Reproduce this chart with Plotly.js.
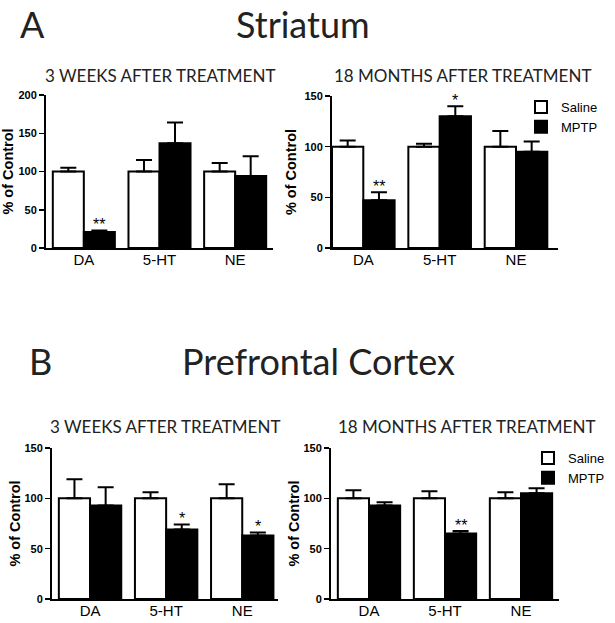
<!DOCTYPE html>
<html><head><meta charset="utf-8">
<script src="https://cdn.plot.ly/plotly-3.0.1.min.js"></script>
<style>html,body{margin:0;padding:0;background:#fff}#g{width:615px;height:623px}</style>
</head><body><div id="g"></div>
<script>
const categories = ["DA", "5-HT", "NE"];
const seriesNames = ["Saline", "MPTP"];

// Striatum, 3 weeks
const str3wSaline = [100, 100, 100];
const str3wSalineErr = [5, 15, 11];
const str3wMptp = [21, 137, 94];
const str3wMptpErr = [2, 27, 26];
const str3wSig = ["**", "", ""];

// Striatum, 18 months
const str18mSaline = [100, 100, 100];
const str18mSalineErr = [6, 3, 15.5];
const str18mMptp = [47, 130, 95];
const str18mMptpErr = [8, 10, 10];
const str18mSig = ["**", "*", ""];

// Prefrontal cortex, 3 weeks
const pfc3wSaline = [100, 100, 100];
const pfc3wSalineErr = [19, 6, 14];
const pfc3wMptp = [93, 69, 63];
const pfc3wMptpErr = [18, 5, 3];
const pfc3wSig = ["", "*", "*"];

// Prefrontal cortex, 18 months
const pfc18mSaline = [100, 100, 100];
const pfc18mSalineErr = [8, 7, 6];
const pfc18mMptp = [93, 65, 105];
const pfc18mMptpErr = [3, 2.5, 5];
const pfc18mSig = ["", "**", ""];

const yTicksTop3w = [0, 50, 100, 150, 200];
const yTicks150 = [0, 50, 100, 150];

const panelTitles = ["3 WEEKS AFTER TREATMENT", "18 MONTHS AFTER TREATMENT", "3 WEEKS AFTER TREATMENT", "18 MONTHS AFTER TREATMENT"];
const sectionTitles = ["Striatum", "Prefrontal Cortex"];
const sectionLetters = ["A", "B"];
const yTitle = "% of Control";

const W = 615, H = 623;
const px = v => v / W;
const py = v => 1 - v / H;
const catIdx = categories.map((c, i) => i);

const panels = [
  {sal: str3wSaline, salE: str3wSalineErr, mp: str3wMptp, mpE: str3wMptpErr, sig: str3wSig, ymax: 200, ticks: yTicksTop3w,
   xd: [46, 273], yd: [95, 248], xr: [-0.5, 2.5], legend: null, title: panelTitles[0], ty: 76, tx: 160, so: 2},
  {sal: str18mSaline, salE: str18mSalineErr, mp: str18mMptp, mpE: str18mMptpErr, sig: str18mSig, ymax: 150, ticks: yTicks150,
   xd: [332, 558], yd: [96, 248], xr: [-0.41, 2.55], legend: "legend", title: panelTitles[1], ty: 76, tx: 462, so: 4},
  {sal: pfc3wSaline, salE: pfc3wSalineErr, mp: pfc3wMptp, mpE: pfc3wMptpErr, sig: pfc3wSig, ymax: 150, ticks: yTicks150,
   xd: [52, 278], yd: [448, 599], xr: [-0.5, 2.47], legend: null, title: panelTitles[2], ty: 426, tx: 165, so: 0},
  {sal: pfc18mSaline, salE: pfc18mSalineErr, mp: pfc18mMptp, mpE: pfc18mMptpErr, sig: pfc18mSig, ymax: 150, ticks: yTicks150,
   xd: [331, 559], yd: [448, 599], xr: [-0.5, 2.5], legend: "legend2", title: panelTitles[3], ty: 426, tx: 466, so: 0}
];

const traces = [];
const layout = {
  width: W, height: H,
  margin: {l: 0, r: 0, t: 0, b: 0},
  paper_bgcolor: "#fff", plot_bgcolor: "#fff",
  barmode: "group", bargap: 0.18, bargroupgap: 0,
  showlegend: true,
  annotations: [],
  font: {family: "Liberation Sans, Arial, sans-serif", color: "#000"}
};

const legendFont = {family: "Liberation Sans, Arial, sans-serif", size: 13, color: "#000"};
layout.legend = {x: px(521), y: py(92), xanchor: "left", yanchor: "top", bgcolor: "rgba(0,0,0,0)", font: legendFont, tracegroupgap: 0};
layout.legend2 = {x: px(528), y: py(443), xanchor: "left", yanchor: "top", bgcolor: "rgba(0,0,0,0)", font: legendFont, tracegroupgap: 0};

panels.forEach((p, k) => {
  const n = k + 1;
  const xa = n === 1 ? "x" : "x" + n;
  const ya = n === 1 ? "y" : "y" + n;
  const xk = n === 1 ? "xaxis" : "xaxis" + n;
  const yk = n === 1 ? "yaxis" : "yaxis" + n;
  const errStyle = {type: "data", symmetric: false, color: "#000", thickness: 2, width: 8};
  traces.push({
    type: "bar", name: seriesNames[0], x: catIdx, y: p.sal, xaxis: xa, yaxis: ya, offsetgroup: "s",
    marker: {color: "#fff", line: {color: "#000", width: 2}},
    error_y: Object.assign({array: p.salE, arrayminus: p.salE.map(() => 0)}, errStyle),
    showlegend: !!p.legend, legend: p.legend || "legend", hoverinfo: "skip"
  });
  traces.push({
    type: "bar", name: seriesNames[1], x: catIdx, y: p.mp, xaxis: xa, yaxis: ya, offsetgroup: "m",
    marker: {color: "#000", line: {color: "#000", width: 2}},
    error_y: Object.assign({array: p.mpE, arrayminus: p.mpE.map(() => 0)}, errStyle),
    showlegend: !!p.legend, legend: p.legend || "legend", hoverinfo: "skip"
  });
  layout[xk] = {
    domain: [px(p.xd[0]), px(p.xd[1])], range: p.xr, anchor: ya,
    tickvals: catIdx, ticktext: categories, ticks: "", showgrid: false, zeroline: false,
    showline: true, linecolor: "#000", linewidth: 2, ticklabelstandoff: -3,
    tickfont: {family: "Liberation Sans, Arial, sans-serif", size: 15, color: "#000"}
  };
  layout[yk] = {
    domain: [py(p.yd[1]), py(p.yd[0])], range: [0, p.ymax], anchor: xa,
    tickvals: p.ticks, ticks: "outside", ticklen: 5, tickwidth: 1.5, tickcolor: "#000",
    showgrid: false, zeroline: false, showline: true, linecolor: "#000", linewidth: 2,
    tickfont: {family: "Liberation Sans, Arial, sans-serif", size: 11, color: "#000", weight: "bold"},
    title: {text: yTitle, standoff: p.so, font: {family: "Liberation Sans, Arial, sans-serif", size: 14.5, color: "#000", weight: "bold"}}
  };
  // significance markers
  p.sig.forEach((s, i) => {
    if (!s) return;
    layout.annotations.push({
      xref: xa, yref: ya, x: catIdx[i] + 0.205, y: p.mp[i] + p.mpE[i],
      text: s, showarrow: false, yanchor: "middle", yshift: 6,
      font: {family: "Liberation Sans, Arial, sans-serif", size: 16, color: "#000"}
    });
  });
  // panel title
  layout.annotations.push({
    xref: "paper", yref: "paper", x: px(p.tx), y: py(p.ty), xanchor: "center", yanchor: "middle",
    text: p.title, showarrow: false,
    font: {family: "Lato, Open Sans, sans-serif", size: 17, color: "#222"}
  });
});

// section headings
[[0, null, 303, 0], [null, 360.5, 318, 1]].forEach(([topY, cy, cx, i]) => {
  const pos = topY !== null ? {y: 1, yanchor: "top"} : {y: py(cy), yanchor: "middle"};
  layout.annotations.push(Object.assign({
    xref: "paper", yref: "paper", x: px(i === 0 ? 18 : 27), xanchor: "left",
    text: sectionLetters[i], showarrow: false,
    font: {family: "Lato, Open Sans, sans-serif", size: 36, color: "#222"}
  }, pos));
  layout.annotations.push(Object.assign({
    xref: "paper", yref: "paper", x: px(cx), xanchor: "center",
    text: sectionTitles[i], showarrow: false,
    font: {family: "Lato, Open Sans, sans-serif", size: 36, color: "#222"}
  }, pos));
});

Plotly.newPlot("g", traces, layout, {staticPlot: true, displayModeBar: false});
</script></body></html>
